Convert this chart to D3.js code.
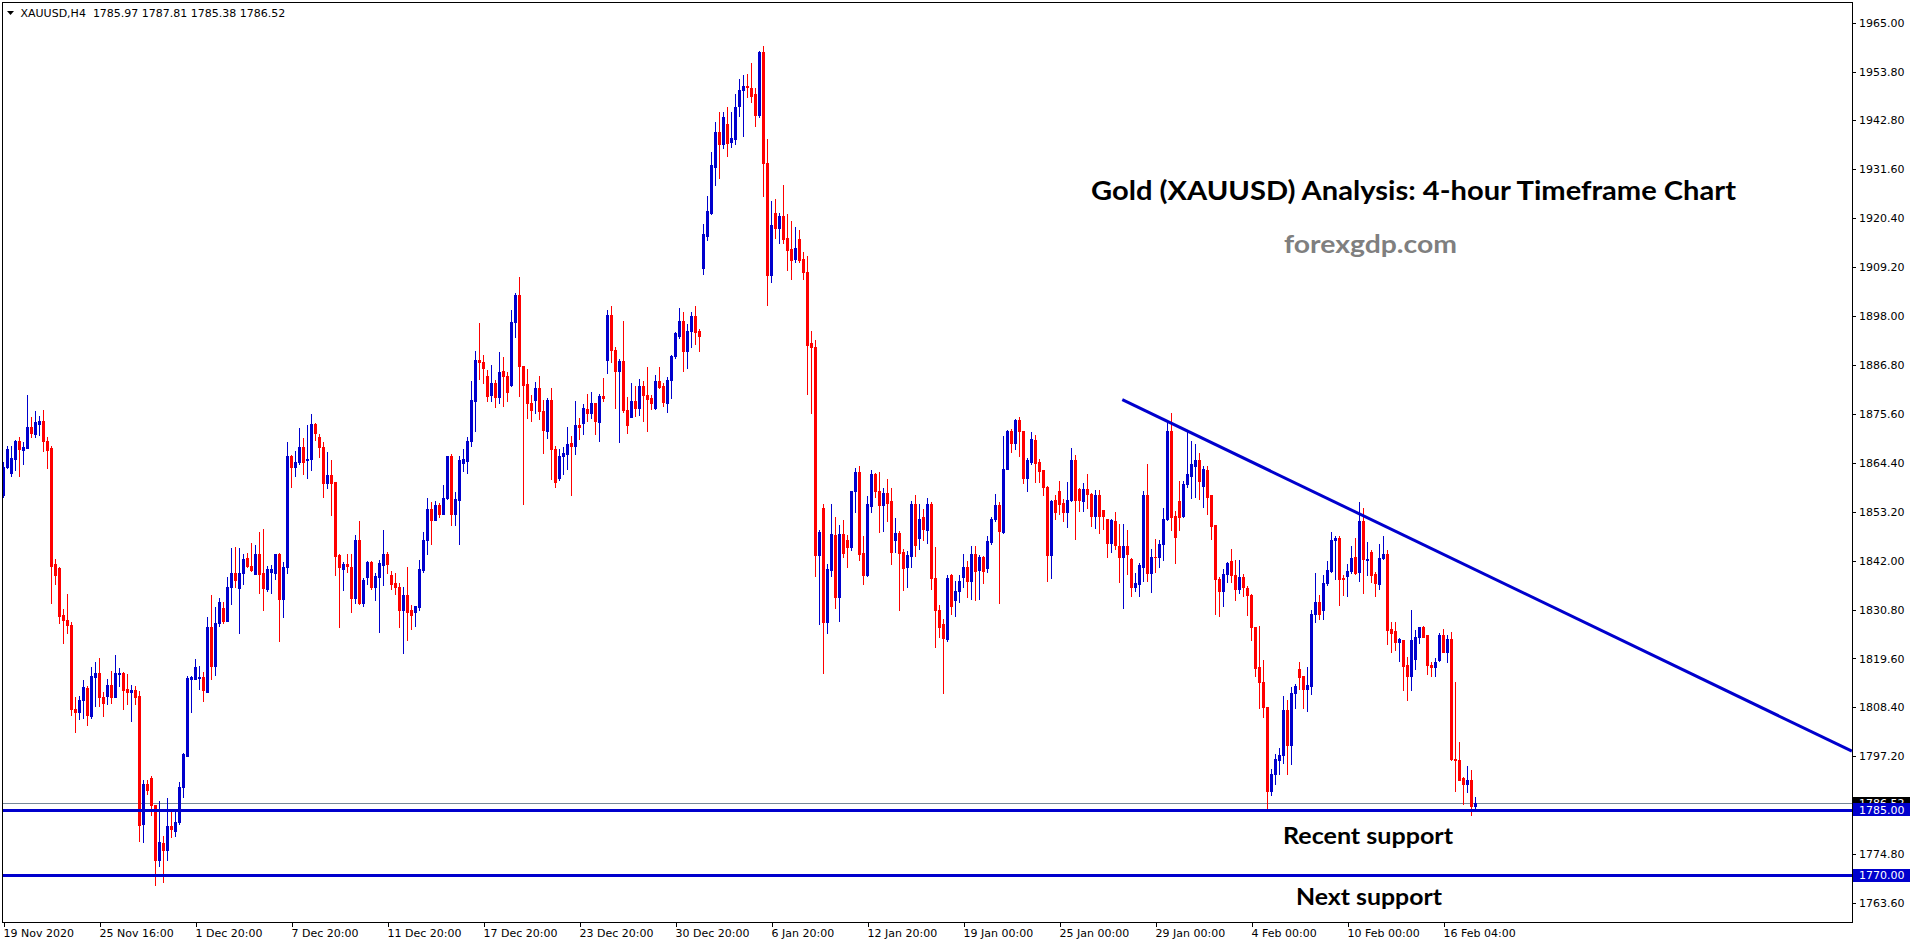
<!DOCTYPE html>
<html><head><meta charset="utf-8">
<script src="https://cdn.jsdelivr.net/npm/d3@7"></script>
<style>
html,body{margin:0;padding:0;background:#fff;overflow:hidden}
svg{display:block}
</style></head><body>
<svg id="chart" width="1916" height="946"></svg>
<script>
// ---- data (XAUUSD H4, bar index 0 = 19 Nov 2020) ----
const open = [
1857.0,1863.3,1862.0,1865.2,1869.4,1867.3,1867.8,1872.5,1870.9,1873.2,
1874.0,1869.4,1867.7,1841.1,1840.3,1829.5,1828.3,1827.3,1808.1,1807.3,
1810.1,1812.9,1806.4,1815.3,1816.3,1810.9,1811.0,1813.6,1810.8,1816.0,
1816.3,1812.6,1812.0,1812.4,1811.0,1781.8,1790.8,1792.2,1786.0,1773.6,
1777.4,1775.7,1781.3,1780.1,1782.2,1790.2,1797.4,1815.0,1815.0,1815.1,
1815.3,1812.0,1826.9,1817.8,1827.7,1831.1,1828.1,1835.9,1839.2,1835.7,
1839.1,1842.6,1840.8,1838.9,1843.5,1839.1,1835.5,1839.4,1839.1,1843.4,
1833.2,1840.6,1866.0,1863.5,1864.5,1867.9,1865.1,1865.2,1873.2,1870.2,
1867.9,1859.8,1861.6,1859.9,1843.3,1840.0,1841.1,1840.6,1833.5,1846.6,
1832.2,1838.2,1841.6,1836.0,1838.3,1840.9,1843.4,1838.6,1836.9,1836.0,
1830.6,1834.1,1830.6,1830.2,1831.3,1839.9,1846.7,1853.7,1851.3,1854.8,
1852.7,1856.3,1865.8,1852.7,1855.9,1864.2,1864.8,1869.3,1878.6,1887.9,
1887.5,1884.3,1879.9,1882.7,1879.5,1885.4,1884.3,1882.2,1896.5,1902.8,
1886.6,1882.4,1878.0,1878.8,1881.5,1876.1,1871.7,1878.7,1867.5,1860.9,
1865.8,1866.4,1868.8,1868.3,1873.1,1873.4,1876.7,1875.7,1878.0,1873.6,
1879.7,1887.9,1898.2,1890.2,1885.3,1887.7,1876.5,1874.8,1878.4,1876.8,
1882.0,1879.9,1879.1,1877.0,1883.1,1881.9,1878.1,1883.4,1888.7,1893.4,
1896.9,1890.0,1894.4,1898.0,1894.4,1909.0,1916.3,1921.6,1932.0,1940.1,
1937.2,1941.8,1937.7,1938.5,1945.9,1949.7,1950.5,1950.2,1948.8,1944.0,
1958.3,1933.0,1907.3,1921.4,1918.0,1920.9,1915.8,1913.3,1911.0,1915.5,
1911.0,1908.0,1891.7,1890.8,1843.2,1854.1,1827.9,1839.8,1847.8,1833.7,
1848.1,1846.6,1845.2,1857.8,1862.3,1843.7,1838.7,1854.4,1861.7,1858.0,
1854.6,1857.5,1855.6,1846.6,1848.4,1843.9,1840.5,1843.0,1854.9,1847.1,
1852.0,1849.0,1854.9,1837.9,1830.8,1827.5,1824.1,1838.6,1832.9,1835.0,
1838.2,1840.6,1837.4,1843.4,1839.9,1842.8,1840.2,1846.2,1851.4,1854.6,
1848.6,1863.0,1871.6,1868.8,1874.2,1871.6,1860.8,1864.5,1869.6,1864.5,
1862.6,1858.9,1843.3,1855.9,1858.0,1855.1,1853.1,1855.9,1864.9,1858.4,
1855.7,1858.4,1857.2,1852.3,1857.1,1853.6,1851.5,1846.0,1851.0,1845.4,
1842.9,1845.4,1842.4,1835.9,1836.7,1840.6,1856.9,1839.1,1842.8,1842.8,
1845.8,1851.5,1871.7,1852.1,1855.7,1852.1,1859.4,1861.4,1863.7,1864.9,
1859.1,1862.8,1856.9,1850.2,1837.7,1835.0,1839.0,1841.8,1838.8,1835.4,
1838.3,1835.7,1834.1,1826.9,1817.6,1814.3,1808.6,1789.3,1793.1,1796.3,
1797.6,1807.7,1799.7,1811.7,1817.2,1815.5,1812.7,1813.4,1829.8,1832.6,
1830.6,1836.8,1839.7,1846.6,1847.1,1838.0,1838.4,1839.6,1842.8,1839.3,
1851.1,1842.2,1843.9,1839.0,1836.7,1842.6,1843.4,1826.4,1825.8,1823.3,
1823.9,1818.0,1815.5,1819.5,1824.5,1826.9,1824.9,1818.2,1817.6,1819.3,
1824.9,1821.0,1824.1,1796.6,1796.4,1792.2,1790.8,1791.9,1785.97
];
const high = [
1864.5,1868.1,1868.1,1869.6,1870.3,1869.2,1879.8,1874.9,1876.3,1875.0,
1876.5,1870.3,1868.3,1842.4,1840.5,1830.9,1834.4,1827.9,1810.9,1811.1,
1814.6,1813.4,1817.6,1818.7,1819.7,1811.9,1814.9,1816.8,1820.3,1817.5,
1816.6,1816.1,1813.6,1813.4,1812.2,1791.8,1791.7,1792.8,1786.0,1786.9,
1778.9,1787.7,1784.8,1784.8,1791.3,1798.0,1815.7,1815.7,1819.5,1817.8,
1816.6,1829.0,1834.2,1831.3,1833.4,1832.5,1838.2,1844.9,1845.0,1844.9,
1843.5,1843.8,1846.0,1845.6,1848.5,1849.3,1840.7,1840.9,1843.5,1843.7,
1841.6,1869.1,1866.2,1867.0,1872.3,1870.0,1873.0,1875.5,1873.4,1871.0,
1869.1,1866.8,1864.9,1859.9,1843.6,1841.6,1843.6,1843.5,1847.9,1851.0,
1838.0,1842.0,1841.8,1839.2,1842.2,1848.9,1843.9,1839.5,1839.1,1836.8,
1835.9,1840.5,1831.9,1831.7,1842.2,1848.6,1856.2,1855.3,1855.6,1855.1,
1859.2,1866.0,1866.4,1857.6,1866.0,1867.6,1870.3,1883.1,1890.0,1896.3,
1889.1,1885.6,1886.8,1883.4,1889.6,1888.5,1885.1,1899.4,1903.3,1906.8,
1886.6,1885.8,1879.9,1882.9,1884.1,1878.8,1879.2,1881.5,1868.1,1867.5,
1867.9,1872.5,1870.6,1878.6,1874.6,1877.8,1880.0,1880.6,1878.0,1880.1,
1883.7,1899.2,1900.3,1890.8,1888.1,1896.7,1879.3,1882.7,1882.0,1883.5,
1883.1,1886.3,1879.9,1884.5,1886.2,1882.5,1883.9,1889.1,1894.2,1899.8,
1898.8,1896.1,1898.9,1900.3,1895.0,1918.9,1925.4,1935.4,1942.4,1944.7,
1944.5,1945.8,1944.5,1948.7,1952.2,1953.1,1953.4,1955.8,1950.2,1958.6,
1959.7,1938.4,1924.3,1924.8,1921.4,1927.9,1921.2,1919.7,1918.2,1917.5,
1912.6,1911.7,1894.4,1892.5,1849.0,1854.9,1841.1,1854.9,1852.0,1850.2,
1851.2,1847.8,1858.0,1863.1,1863.6,1847.6,1856.8,1862.6,1862.0,1862.2,
1858.7,1860.7,1858.7,1851.8,1848.7,1844.7,1844.2,1855.6,1857.0,1854.9,
1853.7,1856.3,1855.5,1845.0,1831.8,1828.7,1838.8,1839.0,1837.4,1838.6,
1843.5,1841.8,1845.3,1845.3,1843.3,1843.1,1847.5,1851.9,1857.2,1855.3,
1870.4,1871.9,1872.1,1874.4,1874.9,1871.7,1865.5,1871.3,1870.7,1865.2,
1862.7,1859.1,1855.9,1856.9,1860.1,1856.1,1859.9,1867.8,1866.2,1858.6,
1859.7,1861.7,1857.4,1858.2,1858.2,1853.6,1851.5,1851.5,1853.2,1850.4,
1850.4,1849.0,1842.6,1839.2,1841.5,1858.0,1864.0,1844.7,1847.0,1846.6,
1854.0,1874.0,1875.7,1853.4,1860.1,1860.3,1871.6,1869.4,1868.7,1866.5,
1863.7,1863.7,1857.0,1850.2,1838.2,1840.1,1841.6,1844.7,1842.2,1842.2,
1839.0,1836.1,1834.4,1826.9,1827.0,1819.3,1808.6,1794.4,1797.8,1799.1,
1811.1,1810.0,1813.0,1813.8,1818.8,1815.7,1817.6,1830.7,1839.2,1834.1,
1838.6,1842.0,1848.6,1847.7,1847.5,1838.6,1841.2,1845.3,1847.1,1855.3,
1854.0,1846.3,1844.3,1839.3,1845.8,1847.6,1844.3,1827.9,1827.9,1824.2,
1823.9,1819.9,1830.6,1826.0,1826.9,1827.1,1824.9,1818.8,1819.7,1825.5,
1826.4,1824.9,1825.6,1814.3,1800.6,1792.5,1795.1,1794.0,1787.81
];
const low = [
1856.5,1863.1,1861.4,1862.6,1861.4,1864.0,1867.7,1870.2,1870.2,1870.8,
1867.0,1863.1,1832.3,1836.7,1827.7,1823.2,1825.4,1806.7,1802.7,1805.8,
1806.0,1804.3,1806.0,1808.7,1808.7,1806.5,1809.1,1809.4,1810.8,1813.4,
1808.1,1809.2,1805.2,1809.2,1777.9,1777.6,1788.6,1783.8,1767.9,1772.2,
1768.4,1773.4,1778.7,1779.0,1781.8,1787.9,1797.2,1807.3,1815.0,1812.7,
1809.8,1811.9,1814.8,1815.9,1827.1,1827.7,1828.1,1832.1,1836.0,1825.5,
1836.7,1840.5,1839.6,1838.9,1834.5,1830.6,1835.1,1834.5,1837.8,1823.7,
1829.2,1839.2,1858.8,1861.4,1864.0,1861.7,1860.9,1862.6,1869.6,1865.6,
1856.5,1858.6,1852.4,1838.7,1826.9,1835.3,1839.3,1830.3,1832.2,1832.1,
1831.5,1836.7,1835.5,1833.0,1825.6,1836.3,1839.1,1835.5,1834.4,1826.9,
1820.8,1823.9,1826.4,1827.1,1830.7,1839.3,1843.5,1845.8,1851.3,1851.9,
1852.7,1856.1,1850.2,1850.2,1845.8,1862.4,1862.0,1868.1,1871.7,1883.5,
1882.5,1878.4,1878.6,1877.2,1878.0,1877.4,1878.4,1882.0,1893.1,1879.6,
1855.0,1874.5,1873.9,1875.7,1874.4,1866.5,1870.0,1860.7,1858.8,1860.4,
1861.8,1863.0,1856.9,1866.4,1869.8,1871.0,1873.9,1874.6,1871.0,1869.3,
1878.4,1884.8,1887.3,1877.0,1869.1,1875.9,1871.1,1874.8,1875.0,1875.4,
1874.0,1871.6,1876.7,1876.7,1881.4,1877.4,1875.9,1879.1,1888.3,1892.8,
1885.3,1886.0,1890.9,1891.5,1890.0,1907.6,1915.3,1921.2,1927.9,1929.4,
1936.4,1934.5,1936.7,1937.2,1943.6,1939.1,1948.1,1946.9,1941.5,1943.4,
1925.4,1900.5,1905.8,1915.7,1914.6,1914.6,1908.5,1906.5,1910.2,1910.4,
1906.5,1880.1,1875.7,1838.4,1827.5,1816.2,1825.5,1838.4,1831.1,1828.2,
1842.9,1840.5,1844.4,1853.1,1842.2,1836.6,1838.4,1853.1,1856.6,1848.6,
1848.8,1851.0,1841.1,1843.9,1830.8,1835.3,1835.9,1840.5,1843.0,1844.7,
1846.6,1845.9,1835.6,1822.3,1824.5,1811.7,1823.5,1829.8,1829.4,1832.5,
1835.9,1833.6,1833.2,1832.9,1833.2,1836.8,1839.3,1845.8,1851.1,1832.2,
1848.4,1863.0,1866.8,1867.5,1866.0,1859.7,1858.0,1864.1,1859.9,1859.9,
1856.9,1837.3,1838.0,1851.5,1852.7,1851.0,1849.6,1855.7,1847.0,1853.4,
1853.4,1854.0,1849.8,1849.5,1848.2,1849.2,1842.9,1843.9,1844.7,1837.0,
1831.2,1839.0,1833.8,1835.1,1833.8,1837.4,1837.4,1834.8,1839.3,1840.6,
1842.2,1851.3,1848.9,1841.4,1848.9,1851.9,1858.8,1856.3,1856.5,1856.1,
1854.2,1852.7,1847.0,1829.8,1829.4,1831.7,1837.0,1837.0,1832.9,1834.5,
1833.8,1829.6,1823.9,1815.7,1808.3,1806.2,1785.2,1788.4,1790.9,1793.1,
1795.7,1793.1,1795.5,1808.3,1812.7,1808.3,1807.5,1811.5,1827.9,1828.7,
1828.7,1836.4,1839.3,1837.7,1831.9,1834.2,1833.8,1839.2,1839.0,1837.4,
1834.6,1838.7,1837.0,1834.0,1835.5,1842.4,1822.8,1821.0,1821.6,1819.1,
1812.3,1810.2,1812.3,1817.2,1823.1,1824.5,1816.1,1815.7,1815.7,1819.1,
1821.0,1818.8,1796.3,1789.3,1791.7,1786.4,1789.0,1783.7,1785.38
];
const close = [
1863.5,1867.5,1865.5,1869.4,1867.5,1867.9,1872.5,1871.2,1873.6,1874.0,
1869.3,1867.3,1840.8,1838.7,1829.4,1828.3,1827.3,1808.1,1807.3,1810.1,
1813.0,1806.6,1815.5,1816.2,1810.9,1809.4,1813.5,1810.9,1816.2,1816.3,
1812.4,1812.0,1812.4,1810.8,1781.5,1790.8,1789.6,1786.1,1773.6,1777.6,
1775.8,1781.3,1780.6,1782.2,1790.2,1797.8,1815.1,1815.3,1817.6,1815.3,
1812.3,1826.9,1817.8,1827.7,1832.5,1828.1,1836.0,1839.2,1837.6,1839.2,
1842.4,1840.8,1839.9,1843.5,1838.9,1835.7,1840.0,1840.1,1843.4,1833.2,
1840.6,1866.0,1863.5,1864.6,1867.9,1864.5,1865.3,1873.2,1871.1,1867.9,
1859.8,1861.6,1859.7,1843.1,1840.6,1841.2,1840.7,1833.5,1846.6,1832.2,
1837.6,1841.6,1835.9,1838.4,1841.4,1843.4,1841.2,1836.6,1836.0,1830.6,
1834.1,1830.3,1829.6,1831.5,1840.0,1846.8,1853.7,1851.3,1854.6,1852.7,
1856.3,1865.8,1852.7,1856.1,1864.9,1865.2,1869.4,1878.8,1887.9,1887.3,
1886.0,1879.7,1882.7,1879.5,1885.2,1884.1,1880.5,1896.6,1902.8,1886.4,
1882.2,1878.0,1876.5,1881.5,1876.1,1871.9,1878.7,1867.5,1859.9,1865.9,
1866.5,1868.7,1868.3,1873.1,1872.5,1876.8,1875.7,1878.0,1873.9,1879.7,
1879.1,1898.2,1890.2,1885.3,1887.7,1876.5,1872.9,1878.4,1876.8,1882.0,
1879.9,1879.0,1878.0,1883.1,1881.6,1878.2,1883.4,1888.9,1894.0,1896.9,
1890.0,1894.6,1898.0,1894.2,1893.4,1916.8,1921.9,1932.5,1940.1,1937.2,
1943.5,1937.6,1938.6,1945.8,1949.7,1950.5,1950.3,1948.3,1944.0,1958.3,
1933.0,1907.3,1918.7,1918.0,1920.9,1915.5,1913.1,1910.7,1913.4,1910.7,
1908.0,1891.3,1890.8,1843.2,1848.5,1827.9,1840.0,1848.1,1833.7,1848.1,
1843.7,1845.2,1857.8,1862.3,1843.5,1838.7,1854.9,1861.7,1857.8,1854.6,
1857.5,1855.1,1843.9,1848.4,1843.7,1840.3,1843.2,1854.9,1845.6,1851.5,
1849.2,1854.9,1837.9,1830.6,1826.7,1824.3,1837.9,1831.7,1835.1,1837.4,
1840.6,1837.4,1843.4,1839.7,1842.8,1839.7,1846.4,1851.4,1854.6,1848.7,
1863.0,1871.6,1868.8,1874.2,1871.6,1860.8,1864.9,1869.8,1864.3,1862.4,
1858.9,1843.3,1855.7,1853.1,1855.0,1853.1,1855.9,1864.9,1855.9,1855.9,
1858.4,1857.2,1852.3,1857.1,1852.3,1852.3,1846.0,1851.3,1845.6,1842.9,
1845.4,1843.5,1835.9,1836.8,1841.0,1856.9,1839.1,1842.8,1842.7,1845.8,
1851.5,1871.7,1851.9,1847.3,1851.9,1859.5,1861.8,1864.0,1864.9,1860.3,
1863.0,1856.5,1850.0,1837.7,1835.0,1839.0,1841.5,1838.8,1835.5,1838.2,
1835.9,1834.1,1826.8,1817.4,1814.2,1808.5,1789.3,1793.1,1796.5,1797.6,
1807.7,1799.7,1811.7,1813.4,1815.3,1812.7,1813.6,1829.8,1832.6,1829.8,
1836.9,1839.9,1846.6,1847.1,1837.8,1837.7,1839.7,1842.6,1839.1,1851.1,
1842.4,1842.4,1838.6,1836.8,1842.6,1843.4,1826.2,1825.5,1823.3,1824.1,
1817.8,1815.5,1823.9,1824.5,1826.9,1824.6,1818.0,1817.6,1818.8,1824.9,
1821.1,1824.1,1796.5,1796.3,1791.8,1790.8,1791.8,1785.97,1786.52
];
const timeTickBars = [0,24,48,72,96,120,144,168,192,216,240,264,288,312,336,360];
const timeTickLabels = ["19 Nov 2020","25 Nov 16:00","1 Dec 20:00","7 Dec 20:00","11 Dec 20:00","17 Dec 20:00","23 Dec 20:00","30 Dec 20:00","6 Jan 20:00","12 Jan 20:00","19 Jan 00:00","25 Jan 00:00","29 Jan 00:00","4 Feb 00:00","10 Feb 00:00","16 Feb 04:00"];
const priceTicks = [1965.00,1953.80,1942.80,1931.60,1920.40,1909.20,1898.00,1886.80,1875.60,1864.40,1853.20,1842.00,1830.80,1819.60,1808.40,1797.20,1774.80,1763.60];
const supportLevels = [1785.00, 1770.00];
const currentPrice = 1786.52;
const trendBars = [279.7, 462.1];
const trendPrices = [1878.8, 1798.4];
const headerText = "XAUUSD,H4  1785.97 1787.81 1785.38 1786.52";

// ---- drawing ----
const svg = d3.select('#chart');
const UP = '#0000cd', DN = '#ff0000', OBJ = '#0000cd';
const AXFONT = 'DejaVu Sans, Verdana, sans-serif';
const plot = {l: 2.5, t: 2.5, r: 1852.5, b: 922.5};
const x = d3.scaleLinear().domain([0, 462]).range([3.5, 3.5 + 4 * 462]);
const y = d3.scaleLinear().domain([1763.6, 1965]).range([903.3, 22.8]);

svg.append('rect').attr('width', 1916).attr('height', 946).attr('fill', '#fff');
svg.append('defs').append('clipPath').attr('id', 'clip')
  .append('rect').attr('x', plot.l).attr('y', plot.t).attr('width', plot.r - plot.l).attr('height', plot.b - plot.t);

const pg = svg.append('g').attr('clip-path', 'url(#clip)').attr('shape-rendering', 'crispEdges');

// current price (bid) line
pg.append('line').attr('x1', plot.l).attr('x2', plot.r)
  .attr('y1', Math.round(y(currentPrice)) + 0.5).attr('y2', Math.round(y(currentPrice)) + 0.5)
  .attr('stroke', '#778899').attr('stroke-width', 1);

const bars = open.map((o, i) => ({i, o, h: high[i], l: low[i], c: close[i]}));
const cg = pg.append('g');
// wicks
cg.selectAll('rect.wick').data(bars).join('rect').attr('class', 'wick')
  .attr('x', d => x(d.i) - 0.5).attr('width', 1)
  .attr('y', d => Math.round(y(Math.max(d.h, d.o, d.c))))
  .attr('height', d => Math.max(1, Math.round(y(Math.min(d.l, d.o, d.c))) - Math.round(y(Math.max(d.h, d.o, d.c))) + 1))
  .attr('fill', d => d.c >= d.o ? UP : DN);
// bodies
cg.selectAll('rect.body').data(bars).join('rect').attr('class', 'body')
  .attr('x', d => x(d.i) - 1.5).attr('width', 3)
  .attr('y', d => Math.round(y(Math.max(d.o, d.c))))
  .attr('height', d => Math.max(1, Math.round(y(Math.min(d.o, d.c))) - Math.round(y(Math.max(d.o, d.c))) + 1))
  .attr('fill', d => d.c >= d.o ? UP : DN);

// support lines
pg.selectAll('line.sup').data(supportLevels).join('line').attr('class', 'sup')
  .attr('x1', plot.l).attr('x2', plot.r)
  .attr('y1', d => Math.round(y(d)) + 0.5).attr('y2', d => Math.round(y(d)) + 0.5)
  .attr('stroke', OBJ).attr('stroke-width', 3);

// trendline
pg.append('line')
  .attr('x1', x(trendBars[0])).attr('y1', y(trendPrices[0]))
  .attr('x2', x(trendBars[1])).attr('y2', y(trendPrices[1]))
  .attr('stroke', OBJ).attr('stroke-width', 3).attr('shape-rendering', 'auto');

// frame
svg.append('rect').attr('x', plot.l).attr('y', plot.t).attr('width', plot.r - plot.l).attr('height', plot.b - plot.t)
  .attr('fill', 'none').attr('stroke', '#000').attr('stroke-width', 1).attr('shape-rendering', 'crispEdges');

// right price axis
const ya = svg.append('g').attr('transform', `translate(${plot.r},0)`)
  .call(d3.axisRight(y).tickValues(priceTicks).tickFormat(d => d.toFixed(2)).tickSize(3).tickPadding(3.5));
ya.select('.domain').remove();
ya.selectAll('line').attr('stroke', '#000').attr('shape-rendering', 'crispEdges');
ya.selectAll('text').attr('font-family', AXFONT).attr('font-size', 11).attr('fill', '#000');

// bottom time axis
const xa = svg.append('g').attr('transform', `translate(0,${plot.b})`)
  .call(d3.axisBottom(x).tickValues(timeTickBars).tickFormat((d, i) => timeTickLabels[i]).tickSize(4).tickPadding(2.5));
xa.select('.domain').remove();
xa.selectAll('line').attr('stroke', '#000').attr('shape-rendering', 'crispEdges');
xa.selectAll('text').attr('font-family', AXFONT).attr('font-size', 11).attr('fill', '#000')
  .attr('text-anchor', 'start').attr('x', -0.5);

// price label boxes (current price first, supports on top)
function priceBox(v, bg) {
  const g = svg.append('g');
  g.append('rect').attr('x', 1853).attr('y', y(v) - 6.5).attr('width', 57).attr('height', 13)
    .attr('fill', bg).attr('shape-rendering', 'crispEdges');
  g.append('text').attr('x', 1859).attr('y', y(v) + 4).text(v.toFixed(2))
    .attr('font-family', AXFONT).attr('font-size', 11).attr('fill', '#fff');
}
priceBox(currentPrice, '#000');
supportLevels.forEach(v => priceBox(v, OBJ));

// header
svg.append('path').attr('d', 'M7,11 L14,11 L10.5,15 Z').attr('fill', '#000');
svg.append('text').attr('x', 20.5).attr('y', 17).text(headerText)
  .attr('font-family', AXFONT).attr('font-size', 11).attr('fill', '#000').style('white-space', 'pre');

// annotations
const ANN = 'Lato, "Open Sans", sans-serif';
function ann(t, x0, yb, size, w, col) {
  svg.append('text').attr('x', x0).attr('y', yb).text(t)
    .attr('font-family', ANN).attr('font-weight', 700).attr('font-size', size).attr('fill', col)
    .attr('textLength', w).attr('lengthAdjust', 'spacingAndGlyphs');
}
ann('Gold (XAUUSD) Analysis: 4-hour Timeframe Chart', 1091, 200, 26, 645, '#000');
ann('forexgdp.com', 1284, 253, 25, 173, '#7f7f7f');
ann('Recent support', 1283, 844, 22, 170, '#000');
ann('Next support', 1296, 905, 22, 146, '#000');
</script>
</body></html>
